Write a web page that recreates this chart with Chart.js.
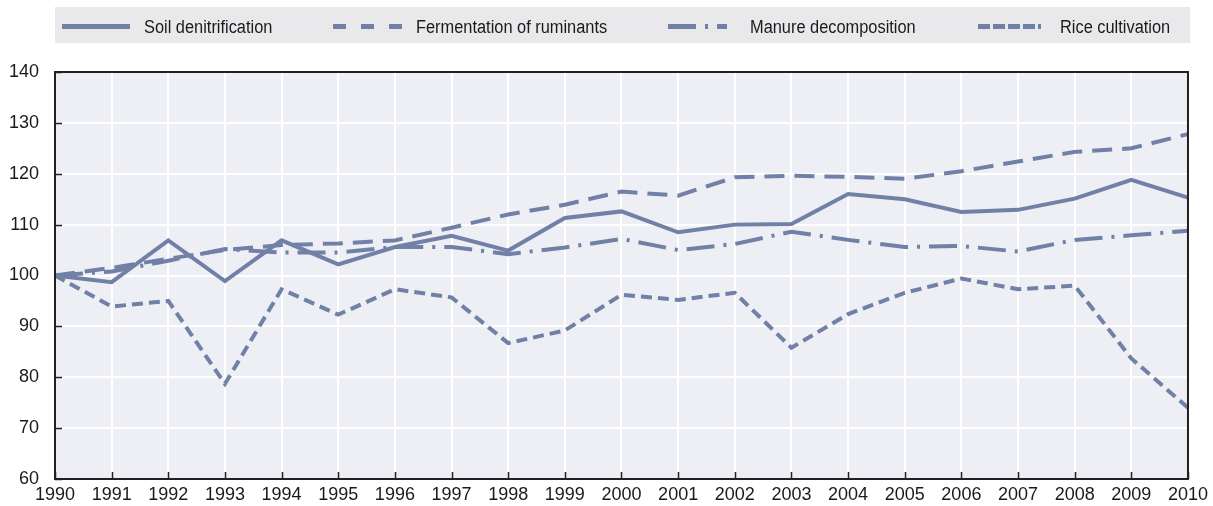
<!DOCTYPE html>
<html>
<head>
<meta charset="utf-8">
<script src="https://cdn.jsdelivr.net/npm/chart.js@4/dist/chart.umd.min.js"></script>
<style>
  html, body { margin: 0; padding: 0; background: #ffffff; }
  #wrap { position: relative; width: 1213px; height: 506px; }
  #c { position: absolute; left: 0; top: 0; }
  #legend { position: absolute; left: 55px; top: 7px; width: 1135px; height: 36px; background: #e9e9ec; }
  .item { position: absolute; top: 0; height: 36px; font-family: "Liberation Sans", Arial, sans-serif; font-size: 18px; color: #1a1a1a; line-height: 36px; white-space: nowrap; }
  .txt { top: 2px; transform: scaleX(0.91); transform-origin: 0 50%; }
  .item svg { position: absolute; top: 0; }
</style>
</head>
<body>
<div id="wrap">
  <canvas id="c" width="1213" height="506"></canvas>
  <div id="legend"></div>
</div>
<script>
const years = ["1990","1991","1992","1993","1994","1995","1996","1997","1998","1999","2000","2001","2002","2003","2004","2005","2006","2007","2008","2009","2010"];
const soilDenitrification = [100, 98.7, 106.9, 98.9, 106.9, 102.2, 105.6, 107.8, 104.9, 111.3, 112.6, 108.5, 110.0, 110.1, 116.0, 115.0, 112.5, 112.9, 115.1, 118.8, 115.3];
const fermentationOfRuminants = [100, 101.5, 103.3, 105.0, 106.0, 106.3, 106.9, 109.4, 112.0, 113.9, 116.5, 115.7, 119.3, 119.6, 119.4, 119.0, 120.5, 122.4, 124.3, 125.0, 127.8];
const manureDecomposition = [100, 100.8, 102.9, 105.2, 104.5, 104.5, 105.6, 105.6, 104.2, 105.5, 107.2, 105.0, 106.2, 108.6, 107.0, 105.6, 105.8, 104.7, 107.0, 107.9, 108.8];
const riceCultivation = [100, 93.9, 95.0, 78.7, 97.3, 92.3, 97.3, 95.7, 86.7, 89.2, 96.2, 95.2, 96.6, 85.8, 92.4, 96.6, 99.4, 97.3, 98.0, 83.7, 74.0];
const yTicks = [60, 70, 80, 90, 100, 110, 120, 130, 140];
const seriesNames = ["Soil denitrification", "Fermentation of ruminants", "Manure decomposition", "Rice cultivation"];

const LINE = '#7080a6';
const PLOT_BG = '#eeeff5';
const FRAME = '#231f20';
const FONT = '"Liberation Sans", Arial, sans-serif';

const plotDecor = {
  id: 'plotDecor',
  beforeDraw(chart) {
    const {ctx, chartArea: a} = chart;
    ctx.save();
    ctx.fillStyle = PLOT_BG;
    ctx.fillRect(a.left, a.top, a.right - a.left, a.bottom - a.top);
    ctx.restore();
  },
  beforeDatasetsDraw(chart) {
    const {ctx, chartArea: a, scales} = chart;
    ctx.save();
    ctx.strokeStyle = FRAME;
    ctx.lineWidth = 1.5;
    ctx.beginPath();
    yTicks.forEach(v => {
      const y = Math.round(scales.y.getPixelForValue(v)) + 0.5;
      ctx.moveTo(a.left, y); ctx.lineTo(a.left + 7, y);
    });
    years.forEach((yr, i) => {
      const x = Math.round(scales.x.getPixelForValue(i)) + 0.5;
      ctx.moveTo(x, a.bottom); ctx.lineTo(x, a.bottom - 7);
    });
    ctx.stroke();
    ctx.restore();
  },
  afterDraw(chart) {
    const {ctx, chartArea: a} = chart;
    ctx.save();
    ctx.strokeStyle = FRAME;
    ctx.lineWidth = 2;
    ctx.strokeRect(a.left, a.top, a.right - a.left, a.bottom - a.top);
    ctx.restore();
  }
};

const styles = [
  { dash: [] },
  { dash: [20, 10] },
  { dash: [28, 9, 3, 9] },
  { dash: [11, 6] }
];
const dataArrays = [soilDenitrification, fermentationOfRuminants, manureDecomposition, riceCultivation];

new Chart(document.getElementById('c'), {
  type: 'line',
  data: {
    labels: years,
    datasets: dataArrays.map((d, i) => ({
      label: seriesNames[i],
      data: d,
      borderColor: LINE,
      backgroundColor: LINE,
      borderWidth: 4,
      borderDash: styles[i].dash,
      borderCapStyle: 'butt',
      borderJoinStyle: 'miter',
      pointRadius: 0,
      tension: 0,
      fill: false
    }))
  },
  options: {
    responsive: false,
    animation: false,
    devicePixelRatio: 1,
    layout: { padding: { top: 72, right: 23, left: 0, bottom: 0 } },
    plugins: { legend: { display: false }, tooltip: { enabled: false } },
    scales: {
      x: {
        type: 'category',
        offset: false,
        grid: { color: '#ffffff', lineWidth: 2, drawTicks: false, offset: false },
        border: { display: false },
        ticks: { color: '#1a1a1a', font: { family: FONT, size: 18 }, padding: 5, maxRotation: 0, autoSkip: false },
        afterFit(s) { s.height = 27; }
      },
      y: {
        min: 60, max: 140,
        afterBuildTicks(s) { s.ticks = yTicks.map(v => ({ value: v })); },
        grid: { color: '#ffffff', lineWidth: 2, drawTicks: false },
        border: { display: false },
        ticks: { color: '#1a1a1a', font: { family: FONT, size: 18 }, padding: 16 },
        afterFit(s) { s.width = 55; }
      }
    }
  },
  plugins: [plotDecor]
});

// HTML legend
const legend = document.getElementById('legend');
const legendSamples = [
  { x: 62, w: 68, dash: '' },
  { x: 333, w: 70, dash: '13 15' },
  { x: 668, w: 60, dash: '28 9 3 9 10 100' },
  { x: 978, w: 68, dash: '12 3 12 3 12 3 12 3 3 100' }
];
const legendText = [144, 416, 750, 1060];
seriesNames.forEach((name, i) => {
  const s = legendSamples[i];
  const sample = document.createElement('div');
  sample.className = 'item';
  sample.style.left = (s.x - 55) + 'px';
  sample.style.width = s.w + 'px';
  sample.innerHTML = '<svg width="' + s.w + '" height="36"><line x1="0" y1="19.5" x2="' + s.w + '" y2="19.5" stroke="' + LINE + '" stroke-width="5"' + (s.dash ? ' stroke-dasharray="' + s.dash + '"' : '') + '/></svg>';
  legend.appendChild(sample);
  const t = document.createElement('div');
  t.className = 'item txt';
  t.style.left = (legendText[i] - 55) + 'px';
  t.textContent = name;
  legend.appendChild(t);
});
</script>
</body>
</html>
